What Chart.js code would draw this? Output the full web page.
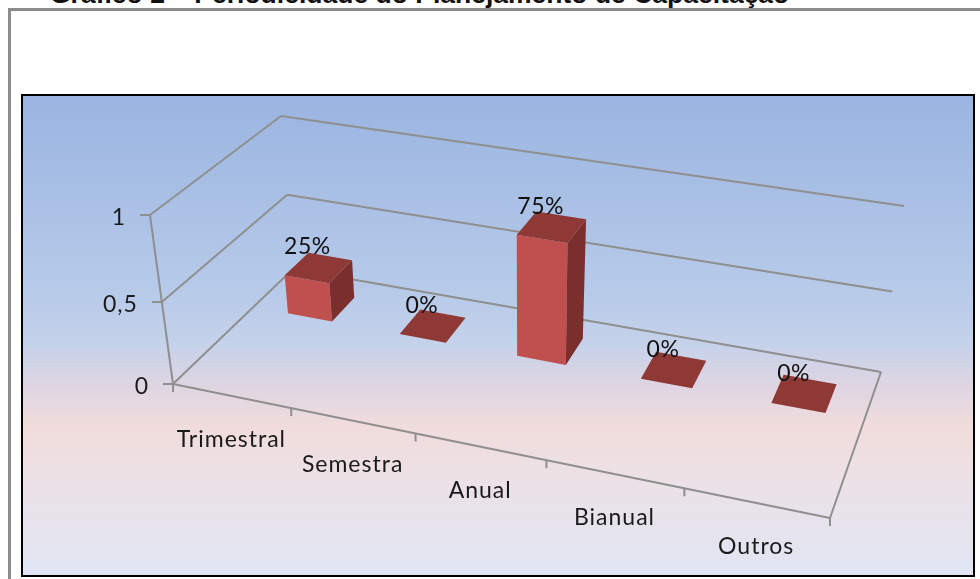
<!DOCTYPE html>
<html>
<head>
<meta charset="utf-8">
<title>Gráfico 2</title>
<script src="https://cdn.jsdelivr.net/npm/chart.js@4"></script>
<style>
  html, body { margin: 0; padding: 0; background: #fff; overflow: hidden; }
  body { position: relative; width: 980px; height: 579px; }
  #title { position: absolute; left: 50px; top: -21px; font: bold 26.5px "Liberation Sans", Arial, sans-serif; color: #111; white-space: nowrap; }
  #frame { position: absolute; left: 8px; top: 8px; width: 980px; height: 600px; border: 3px solid #8c8c8c; box-sizing: border-box; }
  #box { position: absolute; left: 21px; top: 94px; width: 954px; height: 483px; box-sizing: border-box; border: 2px solid #000;
    background: linear-gradient(to bottom, #9ab5e1 0%, #b8cbe9 42%, #c6d2ea 52%, #ddd5e2 60%, #f1dcdc 69%, #ece1e6 80%, #e0e6f4 100%); }
  canvas { position: absolute; left: 0; top: 0; }
</style>
</head>
<body>
<div id="title">Gráfico 2 – Periodicidade do Planejamento de Capacitação</div>
<div id="frame"></div>
<div id="box"></div>
<canvas id="chart" width="980" height="579"></canvas>
<script>
const categories = ['Trimestral', 'Semestra', 'Anual', 'Bianual', 'Outros'];
const shares = [0.25, 0, 0.75, 0, 0];
const yTicks = [0, 0.5, 1];

// corners of the 3D box as seen on the page: [across, depth, height]
const view = {
  floor: { a: [173, 384], b: [830, 518], c: [293, 269], d: [881, 372] },
  top: { a: [150, 215], b: [842, 336], c: [281, 116], d: [904, 206] }
};
const DEPTH_FRONT = 0.67;
const DEPTH_BACK = 0.87;
const BAR_SHIFT = 0.004;

function mix(p, q, t) {
  return [p[0] + (q[0] - p[0]) * t, p[1] + (q[1] - p[1]) * t];
}

// u, v are 0..1 along the category and value axes, d is 0..1 into the picture
function project(u, d, v) {
  const uu = u / (1 + 0.139 * (1 - u));
  const vv = v / (1 + 0.062 * (1 - v));
  const low = mix(mix(view.floor.a, view.floor.b, uu), mix(view.floor.c, view.floor.d, uu), d);
  const high = mix(mix(view.top.a, view.top.b, uu), mix(view.top.c, view.top.d, uu), d);
  return mix(low, high, vv);
}

function poly(ctx, pts, fill) {
  ctx.beginPath();
  pts.forEach((p, i) => i ? ctx.lineTo(p[0], p[1]) : ctx.moveTo(p[0], p[1]));
  ctx.closePath();
  ctx.fillStyle = fill;
  ctx.fill();
}

function line(ctx, p, q) {
  ctx.beginPath();
  ctx.moveTo(p[0], p[1]);
  ctx.lineTo(q[0], q[1]);
  ctx.stroke();
}

const box3d = {
  id: 'box3d',
  beforeDatasetsDraw(chart) {
    const { ctx, scales: { x, y }, chartArea: area } = chart;
    const toV = val => (area.bottom - y.getPixelForValue(val)) / area.height;
    ctx.save();
    ctx.strokeStyle = '#8f8f8f';
    ctx.lineWidth = 2;

    // walls
    yTicks.forEach(t => {
      const v = toV(t);
      line(ctx, project(0, 0, v), project(0, 1, v));
      line(ctx, project(0, 1, v), project(1, 1, v));
      const p = project(0, 0, v);
      line(ctx, [p[0] - 10, p[1]], [p[0] + 1, p[1]]);
    });
    line(ctx, project(0, 0, 0), project(0, 0, 1));
    line(ctx, project(0, 0, 0), project(1, 0, 0));
    line(ctx, project(1, 0, 0), project(1, 1, 0));

    // category ticks on the front edge
    for (let i = 0; i <= categories.length; i++) {
      const p = project(i / categories.length, 0, 0);
      line(ctx, p, [p[0], p[1] + 8]);
    }

    // axis text
    ctx.fillStyle = '#1a1a1a';
    ctx.font = '23px Lato, sans-serif';
    ctx.letterSpacing = '1px';
    ctx.textBaseline = 'middle';
    ctx.textAlign = 'right';
    yTicks.forEach(t => {
      const p = project(0, 0, toV(t));
      ctx.fillText(String(t).replace('.', ','), p[0] - 24, p[1] + 3);
    });
    ctx.textAlign = 'center';
    categories.forEach((c, i) => {
      const u = (x.getPixelForValue(i) - area.left) / area.width;
      const p = project(u, 0, 0);
      ctx.fillText(c, p[0], p[1] + 44);
    });
    ctx.restore();
  },
  afterDatasetsDraw(chart) {
    const { ctx, chartArea: area } = chart;
    const meta = chart.getDatasetMeta(0);
    ctx.save();
    meta.data.forEach(bar => {
      const u0 = (bar.x - bar.width / 2 - area.left) / area.width + BAR_SHIFT;
      const u1 = (bar.x + bar.width / 2 - area.left) / area.width + BAR_SHIFT;
      const v = (area.bottom - bar.y) / area.height;
      const d0 = DEPTH_FRONT, d1 = DEPTH_BACK;
      if (v > 0) {
        poly(ctx, [project(u0, d0, 0), project(u1, d0, 0), project(u1, d0, v), project(u0, d0, v)], '#c0504d');
        poly(ctx, [project(u1, d0, 0), project(u1, d1, 0), project(u1, d1, v), project(u1, d0, v)], '#7a2f2d');
      }
      poly(ctx, [project(u0, d0, v), project(u1, d0, v), project(u1, d1, v), project(u0, d1, v)], '#8f3937');
    });
    ctx.fillStyle = '#111';
    ctx.font = '23px Lato, sans-serif';
    ctx.letterSpacing = '0.5px';
    ctx.textAlign = 'center';
    ctx.textBaseline = 'middle';
    meta.data.forEach((bar, i) => {
      const u = (bar.x - area.left) / area.width + BAR_SHIFT;
      const v = (area.bottom - bar.y) / area.height;
      const p = project(u, 0.76, v);
      ctx.fillText(Math.round(shares[i] * 100) + '%', p[0] - 10, p[1] - 22);
    });
    ctx.restore();
  }
};

new Chart(document.getElementById('chart'), {
  type: 'bar',
  data: {
    labels: categories,
    datasets: [{
      data: shares,
      backgroundColor: 'transparent',
      barPercentage: 0.4,
      categoryPercentage: 1
    }]
  },
  options: {
    responsive: false,
    animation: false,
    layout: { padding: 0 },
    plugins: { legend: { display: false }, tooltip: { enabled: false } },
    scales: {
      x: { display: false },
      y: { display: false, min: 0, max: 1 }
    }
  },
  plugins: [box3d]
});
</script>
</body>
</html>
